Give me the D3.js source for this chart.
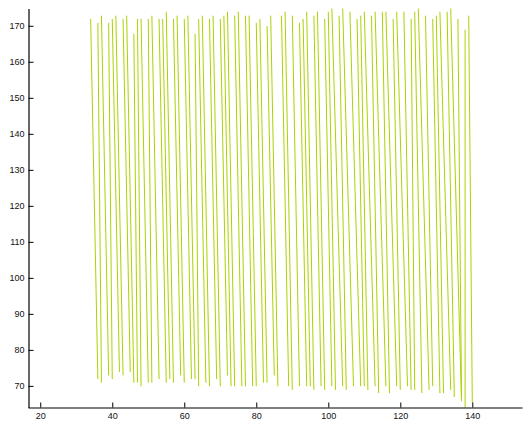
<!DOCTYPE html>
<html>
<head>
<meta charset="utf-8">
<script src="https://cdn.jsdelivr.net/npm/d3@7"></script>
<style>
  html, body { margin: 0; padding: 0; background: #ffffff; }
  svg { display: block; }
  .tick text { font-family: "Liberation Sans", Arial, sans-serif; font-size: 9px; fill: #111; }
</style>
</head>
<body>
<svg id="chart" width="523" height="421"></svg>
<script>
// Each stroke runs from a high reading (xHigh, yHigh) down to a low reading (xLow, yLow)
const xHigh = [34, 36, 37, 39, 40, 41, 43, 44, 46, 47, 48, 50, 51, 53, 54, 55, 57, 58, 60, 61,
               63, 64, 65, 67, 68, 70, 71, 72, 74, 75, 77, 78, 80, 81, 83, 84, 87, 88, 90, 92,
               93, 94, 96, 97, 99, 100, 101, 103, 104, 106, 108, 109, 110, 112, 113, 115, 116, 118, 119, 121,
               123, 124, 125, 127, 129, 130, 131, 133, 134, 136, 138, 139];
const yHigh = [171.9, 170.8, 172.8, 170.8, 171.9, 172.8, 171.9, 172.8, 167.8, 171.9, 171.9, 171.9, 172.8, 171.9, 171.9, 173.9, 171.9, 172.8, 171.9, 172.8,
               167.8, 171.9, 172.8, 171.9, 172.8, 171.9, 172.8, 173.9, 172.8, 173.9, 172.8, 172.8, 170.8, 171.9, 169.9, 172.8, 172.8, 173.9, 172.8, 170.8,
               171.9, 173.9, 172.8, 173.9, 171.9, 173.9, 174.8, 172.8, 174.8, 173.9, 171.9, 172.8, 173.9, 172.8, 173.9, 173.9, 173.9, 171.9, 173.9, 173.9,
               171.9, 173.9, 174.8, 172.8, 171.9, 172.8, 173.9, 173.9, 174.8, 171.9, 168.9, 172.8];
const xLow  = [36, 37, 39, 40, 42, 43, 45, 46, 47, 48, 50, 51, 53, 55, 56, 57, 59, 60, 62, 63,
               64, 66, 67, 69, 70, 72, 73, 74, 76, 77, 79, 80, 82, 83, 85, 86, 89, 90, 92, 94,
               95, 96, 98, 99, 101, 102, 104, 105, 107, 109, 110, 111, 113, 114, 116, 117, 119, 120, 122, 123,
               124, 126, 128, 129, 131, 132, 134, 135, 137, 137, 138, 140];
const yLow  = [71.9, 70.9, 72.9, 71.9, 73.9, 72.9, 73.9, 70.9, 70.9, 69.9, 70.9, 70.9, 71.9, 70.9, 71.9, 70.9, 72.9, 70.9, 71.9, 71.9,
               69.9, 70.9, 69.9, 71.9, 69.9, 72.9, 69.9, 69.9, 69.9, 69.9, 69.9, 69.9, 70.9, 70.9, 72.9, 69.9, 69.9, 68.9, 69.9, 69.9,
               69.9, 68.9, 69.9, 68.9, 69.9, 68.9, 69.9, 68.9, 69.9, 69.9, 69.9, 68.9, 69.9, 68.0, 69.9, 68.0, 69.9, 68.9, 69.9, 68.9,
               68.9, 68.0, 68.9, 69.9, 68.0, 68.0, 68.9, 66.9, 65.8, 66.9, 64.0, 65.2];

const xTicks = [20, 40, 60, 80, 100, 120, 140];
const yTicks = [70, 80, 90, 100, 110, 120, 130, 140, 150, 160, 170];

const lineColor = "#a9d300";

const svg = d3.select("#chart");

const x = d3.scaleLinear()
  .domain([16.6, 153.8])
  .range([28, 522]);

const y = d3.scaleLinear()
  .domain([d3.min(yLow), d3.max(yHigh)])
  .range([407.5, 8.5]);

// Pair up the readings into individual strokes
const strokes = xHigh.map((xh, i) => [[xh, yHigh[i]], [xLow[i], yLow[i]]]);

const line = d3.line()
  .x(d => x(d[0]))
  .y(d => y(d[1]));

svg.append("g")
  .selectAll("path")
  .data(strokes)
  .join("path")
  .attr("d", line)
  .attr("fill", "none")
  .attr("stroke", lineColor)
  .attr("stroke-width", 1);

// Axes with ticks pointing into the plot
const xAxis = d3.axisBottom(x)
  .tickValues(xTicks)
  .tickSizeInner(-5)
  .tickSizeOuter(0)
  .tickPadding(5);

const yAxis = d3.axisLeft(y)
  .tickValues(yTicks)
  .tickSizeInner(-5)
  .tickSizeOuter(0)
  .tickPadding(4);

const gx = svg.append("g")
  .attr("transform", "translate(0,407.5)")
  .call(xAxis);

const gy = svg.append("g")
  .attr("transform", "translate(28.5,0)")
  .call(yAxis);

[gx, gy].forEach(g => {
  g.select(".domain").attr("stroke", "#000").attr("stroke-width", 1.2);
  g.selectAll(".tick line").attr("stroke", "#000");
});
</script>
</body>
</html>
